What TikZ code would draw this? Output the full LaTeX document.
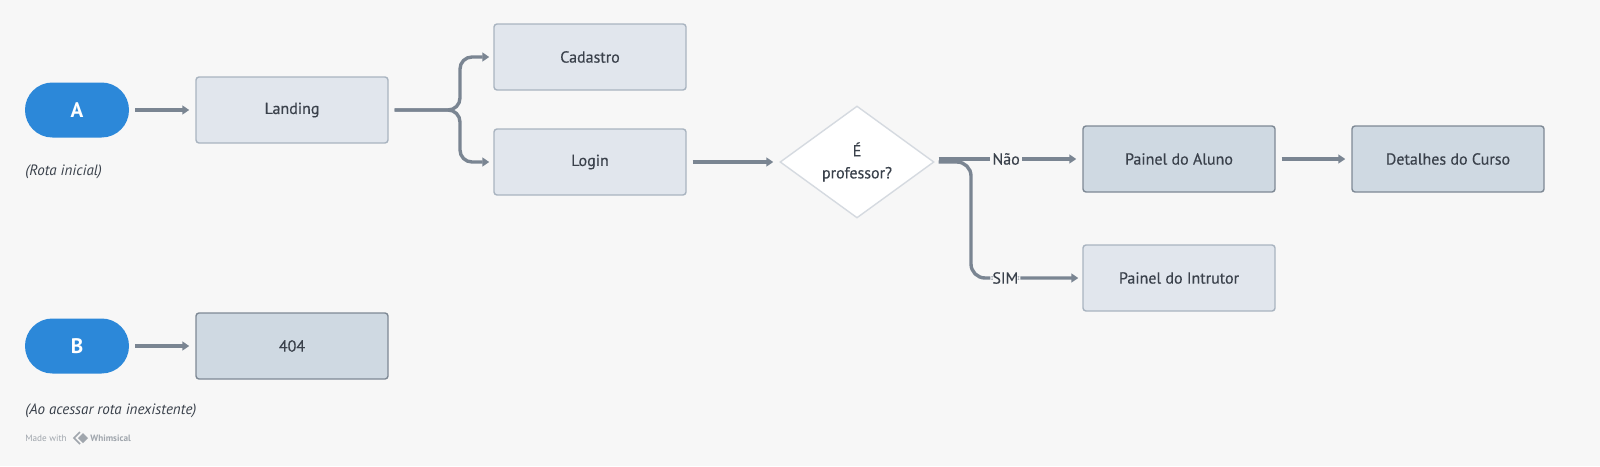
\documentclass[tikz,border=0pt]{standalone}
\usepackage{fontspec}
\setmainfont{PT Sans}
\newfontfamily\mediumfont{PT Sans}[FakeBold=0.35]
\usetikzlibrary{positioning}
\usetikzlibrary{shapes.geometric}
\usetikzlibrary{arrows.meta}

\definecolor{bg}{HTML}{F7F7F7}
\definecolor{boxfill}{HTML}{E1E6ED}
\definecolor{boxline}{HTML}{A9B4C0}
\definecolor{darkfill}{HTML}{CFD9E2}
\definecolor{darkline}{HTML}{7E8995}
\definecolor{pillblue}{HTML}{2C88D9}
\definecolor{wire}{HTML}{7A8592}
\definecolor{txt}{HTML}{3A414B}
\definecolor{faint}{HTML}{A0A6AD}
\definecolor{diamline}{HTML}{D5DAE0}

\tikzset{
  screen/.style={rectangle, draw=boxline, fill=boxfill, line width=0.7pt,
    rounded corners=1.5pt, minimum width=96pt, minimum height=33pt,
    text=txt, font=\mediumfont\fontsize{8}{10}\selectfont},
  screendark/.style={screen, draw=darkline, fill=darkfill},
  route/.style={rectangle, fill=pillblue, rounded corners=13.7pt,
    minimum width=52pt, minimum height=27.5pt, text=white,
    font=\fontsize{10.5}{12}\selectfont\bfseries},
  conn/.style={draw=wire, line width=1.7pt, -{Triangle[length=3.5pt,width=4.4pt]}},
  lab/.style={fill=bg, text=txt, inner sep=1pt, font=\mediumfont\fontsize{8}{10}\selectfont},
  note/.style={text=txt, anchor=west, inner sep=0pt, font=\fontsize{7.5}{9}\selectfont\itshape}
}

\begin{document}
\begin{tikzpicture}[x=0.5pt, y=-0.5pt]
    \fill[bg] (0,0) rectangle (1600,466);

    % rotas de entrada
    \node[route] (a) at (77,110) {A};
    \node[route] (b) at (77,346) {B};
    \node[note] (notea) at (25,172) {(Rota inicial)};
    \node[note] (noteb) at (25,411) {(Ao acessar rota inexistente)};

    % telas
    \node[screen] (landing) at (292,110) {Landing};
    \node[screen] (cadastro) at (590,57) {Cadastro};
    \node[screen] (login) at (590,162) {Login};
    \node[screendark] (notfound) at (292,346) {404};
    \node[diamond, draw=diamline, fill=white, line width=0.7pt, inner sep=0pt,
        minimum width=77pt, minimum height=56pt, align=center, text=txt,
        font=\mediumfont\fontsize{8}{11}\selectfont] (prof) at (857,162) {É\\professor?};
    \node[screendark] (aluno) at (1179,159) {Painel do Aluno};
    \node[screendark] (curso) at (1448,159) {Detalhes do Curso};
    \node[screen] (instrutor) at (1179,278) {Painel do Intrutor};

    % ligacoes
    \draw[conn] ([xshift=3pt]a.east) -- ([xshift=-3pt]landing.west);
    \draw[conn] ([xshift=3pt]b.east) -- ([xshift=-3pt]notfound.west);
    \draw[conn, rounded corners=6pt] ([xshift=3pt]landing.east) -- (460,110)
        |- ([xshift=-2pt]cadastro.west);
    \draw[conn, rounded corners=6pt] ([xshift=3pt]landing.east) -- (460,110)
        |- ([xshift=-2pt]login.west);
    \draw[conn] ([xshift=3pt]login.east) -- ([xshift=-3pt]prof.west);
    \draw[conn] ([xshift=2pt]prof.east |- aluno.west) --
        node[lab, pos=0.49] {Não} ([xshift=-3pt]aluno.west);
    \draw[conn, rounded corners=7pt] ([xshift=2pt]prof.east) -- (971,162)
        |- node[lab, pos=0.66] {SIM} ([xshift=-2pt]instrutor.west);
    \draw[conn] ([xshift=3pt]aluno.east) -- ([xshift=-3pt]curso.west);

    % marca
    \node[anchor=west, inner sep=0pt, text=faint, font=\fontsize{4.6}{5}\selectfont]
        (made) at (25,438) {Made with};
    \draw[faint, line width=0.8pt] (80,432) -- (74,438) -- (80,444);
    \fill[faint] (83,433) -- (88,438) -- (83,443) -- (78,438) -- cycle;
    \node[anchor=west, inner sep=0pt, text=faint, font=\fontsize{4.6}{5}\selectfont\bfseries]
        (whim) at (90,438) {Whimsical};
\end{tikzpicture}
\end{document}
